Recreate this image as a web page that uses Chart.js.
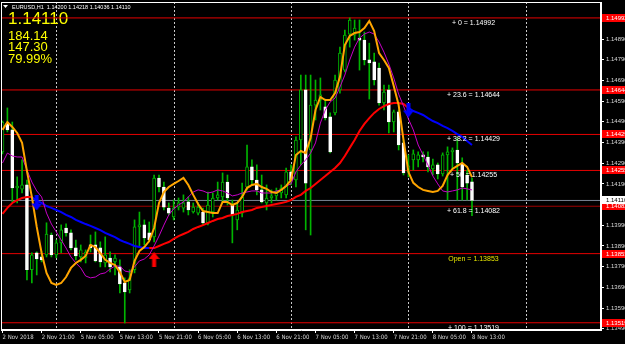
<!DOCTYPE html>
<html lang="en">
<head>
<meta charset="UTF-8">
<title>EURUSD,H1</title>
<style>
  html, body { margin: 0; padding: 0; background: #000; }
  canvas { display: block; }
</style>
</head>
<body>
<canvas id="chart" width="625" height="344"></canvas>
<script src="https://cdn.jsdelivr.net/npm/chart.js"></script>
<script>
// EURUSD H1, bars 2 Nov 13:00 .. 8 Nov 13:00 (index 0..96)
const symbol = 'EURUSD,H1';
const opens = [1.14345,1.14484,1.14451,1.14170,1.14165,1.14185,1.13775,1.13857,1.13837,1.13847,
  1.13943,1.13847,1.13905,1.13977,1.13953,1.13881,1.13837,1.13832,1.13895,1.13895,
  1.13881,1.13808,1.13832,1.13813,1.13789,1.13712,1.13678,1.13775,1.13982,1.13992,
  1.13953,1.13934,1.14218,1.14175,1.14073,1.14030,1.14078,1.14073,1.14103,1.14054,
  1.14049,1.14054,1.14001,1.14054,1.14122,1.14127,1.14199,1.14088,1.14016,1.14049,
  1.14175,1.14272,1.14209,1.14161,1.14098,1.14122,1.14132,1.14146,1.14137,1.14248,
  1.14209,1.14402,1.14644,1.14354,1.14571,1.14595,1.14562,1.14514,1.14533,1.14644,
  1.14740,1.14914,1.14909,1.14894,1.14885,1.14789,1.14780,1.14750,1.14581,1.14644,
  1.14489,1.14538,1.14388,1.14248,1.14306,1.14306,1.14330,1.14320,1.14262,1.14282,
  1.14238,1.14330,1.14345,1.14354,1.14291,1.14233,1.14200];
const highs = [1.14494,1.14557,1.14489,1.14224,1.14306,1.14209,1.13857,1.13862,1.13862,1.14002,
  1.13953,1.13919,1.13992,1.13997,1.13968,1.13919,1.13895,1.13871,1.13943,1.13958,
  1.13910,1.13934,1.13862,1.13847,1.13823,1.13736,1.13775,1.14016,1.14054,1.14016,
  1.14006,1.14233,1.14233,1.14199,1.14098,1.14112,1.14122,1.14137,1.14127,1.14098,
  1.14098,1.14073,1.14151,1.14146,1.14199,1.14243,1.14233,1.14112,1.14098,1.14194,
  1.14378,1.14306,1.14282,1.14233,1.14185,1.14161,1.14170,1.14185,1.14267,1.14282,
  1.14417,1.14716,1.14716,1.14716,1.14692,1.14702,1.14600,1.14533,1.14716,1.14851,
  1.14933,1.14992,1.14982,1.14982,1.14924,1.14870,1.14822,1.14774,1.14668,1.14668,
  1.14547,1.14547,1.14402,1.14330,1.14354,1.14345,1.14345,1.14345,1.14310,1.14291,
  1.14340,1.14369,1.14364,1.14412,1.14316,1.14257,1.14218];
const lows = [1.14335,1.14441,1.14103,1.14098,1.14146,1.13726,1.13711,1.13750,1.13813,1.13837,
  1.13837,1.13833,1.13857,1.13938,1.13871,1.13823,1.13813,1.13808,1.13861,1.13813,
  1.13789,1.13789,1.13765,1.13750,1.13663,1.13518,1.13663,1.13760,1.13885,1.13895,
  1.13910,1.13910,1.14151,1.14064,1.14040,1.14016,1.14064,1.14054,1.14040,1.14049,
  1.14040,1.13992,1.13992,1.14030,1.14112,1.14098,1.14088,1.13905,1.13968,1.14030,
  1.14161,1.14185,1.14137,1.14098,1.14064,1.14098,1.14112,1.14122,1.14122,1.14185,
  1.14175,1.14282,1.13968,1.13943,1.14499,1.14547,1.14499,1.14340,1.14523,1.14629,
  1.14731,1.14851,1.14885,1.14740,1.14765,1.14600,1.14668,1.14571,1.14547,1.14436,
  1.14441,1.14354,1.14233,1.14224,1.14257,1.14272,1.14296,1.14248,1.14233,1.14214,
  1.14228,1.14112,1.14262,1.14112,1.14112,1.14112,1.14036];
const closes = [1.14489,1.14451,1.14170,1.14180,1.14185,1.13775,1.13847,1.13828,1.13823,1.13948,
  1.13847,1.13905,1.13968,1.13953,1.13881,1.13842,1.13871,1.13861,1.13881,1.13818,
  1.13813,1.13847,1.13789,1.13832,1.13707,1.13668,1.13736,1.13982,1.13992,1.13929,
  1.13919,1.14218,1.14175,1.14078,1.14049,1.14073,1.14098,1.14098,1.14064,1.14078,
  1.14078,1.14001,1.14088,1.14122,1.14137,1.14199,1.14122,1.14040,1.14064,1.14127,
  1.14272,1.14209,1.14161,1.14103,1.14122,1.14132,1.14151,1.14170,1.14248,1.14209,
  1.14402,1.14644,1.14194,1.14571,1.14595,1.14620,1.14509,1.14345,1.14692,1.14822,
  1.14909,1.14982,1.14943,1.14885,1.14789,1.14775,1.14692,1.14581,1.14634,1.14489,
  1.14538,1.14378,1.14243,1.14277,1.14335,1.14330,1.14320,1.14272,1.14282,1.14238,
  1.14330,1.14345,1.14354,1.14291,1.14175,1.14194,1.14110];

// indicator lines
const fastMA = [1.14451,1.14489,1.14465,1.14436,1.14388,1.14252,1.14127,1.13982,1.13856,1.13760,
  1.13711,1.13702,1.13711,1.13740,1.13784,1.13808,1.13823,1.13842,1.13895,1.13885,
  1.13856,1.13823,1.13808,1.13798,1.13764,1.13716,1.13726,1.13818,1.13866,1.13885,
  1.13914,1.13977,1.14098,1.14151,1.14175,1.14190,1.14204,1.14219,1.14185,1.14137,
  1.14093,1.14059,1.14054,1.14049,1.14049,1.14103,1.14103,1.14088,1.14098,1.14127,
  1.14170,1.14185,1.14190,1.14175,1.14166,1.14151,1.14146,1.14161,1.14180,1.14209,
  1.14330,1.14349,1.14339,1.14412,1.14547,1.14610,1.14595,1.14595,1.14629,1.14707,
  1.14861,1.14905,1.14919,1.14924,1.14943,1.14977,1.14929,1.14822,1.14789,1.14750,
  1.14663,1.14571,1.14402,1.14248,1.14195,1.14175,1.14161,1.14156,1.14151,1.14156,
  1.14180,1.14233,1.14262,1.14277,1.14291,1.14272,1.14223];
const midMA = [1.14291,1.14339,1.14325,1.14320,1.14320,1.14257,1.14199,1.14156,1.14127,1.14049,
  1.13996,1.13958,1.13919,1.13880,1.13837,1.13808,1.13784,1.13745,1.13736,1.13740,
  1.13755,1.13760,1.13779,1.13793,1.13793,1.13769,1.13764,1.13789,1.13818,1.13827,
  1.13847,1.13890,1.13938,1.13991,1.14040,1.14069,1.14088,1.14103,1.14127,1.14151,
  1.14161,1.14156,1.14146,1.14151,1.14161,1.14156,1.14146,1.14132,1.14137,1.14146,
  1.14151,1.14156,1.14156,1.14146,1.14146,1.14146,1.14156,1.14161,1.14180,1.14190,
  1.14248,1.14281,1.14306,1.14339,1.14388,1.14484,1.14547,1.14586,1.14605,1.14658,
  1.14716,1.14789,1.14851,1.14895,1.14914,1.14924,1.14914,1.14876,1.14827,1.14769,
  1.14702,1.14624,1.14566,1.14504,1.14451,1.14378,1.14330,1.14281,1.14228,1.14190,
  1.14156,1.14151,1.14156,1.14161,1.14170,1.14166,1.14161];
const slowMA = [1.14045,1.14074,1.14098,1.14112,1.14122,1.14127,1.14127,1.14108,1.14098,1.14083,
  1.14074,1.14064,1.14054,1.14040,1.14030,1.14016,1.14006,1.13996,1.13987,1.13977,
  1.13967,1.13953,1.13943,1.13933,1.13919,1.13909,1.13900,1.13890,1.13885,1.13880,
  1.13880,1.13880,1.13890,1.13900,1.13909,1.13924,1.13938,1.13948,1.13958,1.13972,
  1.13982,1.13991,1.14001,1.14011,1.14020,1.14025,1.14035,1.14040,1.14045,1.14054,
  1.14059,1.14064,1.14074,1.14078,1.14083,1.14088,1.14093,1.14098,1.14103,1.14112,
  1.14127,1.14137,1.14156,1.14170,1.14190,1.14209,1.14228,1.14248,1.14267,1.14291,
  1.14325,1.14364,1.14402,1.14446,1.14480,1.14508,1.14533,1.14552,1.14566,1.14576,
  1.14581,1.14581,1.14576,1.14557,1.14542,1.14533,1.14523,1.14508,1.14494,1.14484,
  1.14470,1.14460,1.14446,1.14431,1.14417,1.14397,1.14378];
const slowDown = [[6, 30], [83, 96]];   // bar stretches where the slow line turns blue

// signal arrows
const downSignalIdx = [7, 83];
const downSignalPrice = [1.14098, 1.14547];
const upSignalIdx = [31];
const upSignalPrice = [1.13825];

// fibo levels
const fibNames = ['0', '23.6', '38.2', '50', '61.8', 'Open', '100'];
const fibPrices = [1.14992, 1.14644, 1.14429, 1.14255, 1.14082, 1.13853, 1.13519];
const bidPrice = 1.14110;
const infoValues = ['184.14', '147.30', '79.99%'];

// axes
const timeTicks = [0, 8, 16, 24, 32, 40, 48, 56, 64, 72, 80, 88, 96];
const timeLabels = ['2 Nov 2018', '2 Nov 21:00', '5 Nov 05:00', '5 Nov 13:00', '5 Nov 21:00',
  '6 Nov 05:00', '6 Nov 13:00', '6 Nov 21:00', '7 Nov 05:00', '7 Nov 13:00', '7 Nov 21:00',
  '8 Nov 05:00', '8 Nov 13:00'];
const daySeparators = [11, 35, 59, 83, 107];
const priceTicks = [1.14890, 1.14790, 1.14690, 1.14590, 1.14490, 1.14390, 1.14290, 1.14190,
  1.13990, 1.13890, 1.13790, 1.13690, 1.13590, 1.13490];

const X_MIN = -0.307, X_MAX = 122.38;
const Y_MIN = 1.13484, Y_MAX = 1.15069;
const GREEN = '#00b400';
const FONT = '"Liberation Sans", Arial, sans-serif';
const NARROW = '"Liberation Sans Narrow", "DejaVu Sans Condensed", "Liberation Sans", sans-serif';

const idx = opens.map((_, i) => i);
const bull = idx.map(i => closes[i] >= opens[i]);
const last = opens.length - 1;

function levelLine(p) {
  return [{ x: X_MIN, y: p }, { x: X_MAX, y: p }];
}
function inDown(i) {
  return slowDown.some(s => i >= s[0] && i < s[1]);
}
function makeArrow(color, up) {
  const c = document.createElement('canvas');
  c.width = 11; c.height = 15;
  const g = c.getContext('2d');
  if (!up) { g.translate(0, 15); g.scale(1, -1); }
  g.fillStyle = color;
  g.beginPath();
  g.moveTo(5.5, 0); g.lineTo(11, 7); g.lineTo(7.5, 7); g.lineTo(7.5, 15);
  g.lineTo(3.5, 15); g.lineTo(3.5, 7); g.lineTo(0, 7);
  g.closePath();
  g.fill();
  return c;
}

const datasets = [];
fibPrices.forEach((p, k) => {
  datasets.push({ type: 'line', data: levelLine(p), borderColor: k === 4 ? '#a00000' : '#e60000',
    borderWidth: 1, pointRadius: 0, order: 20 });
});
datasets.push({ type: 'line', data: levelLine(bidPrice), borderColor: '#7a8594', borderWidth: 1, pointRadius: 0, order: 19 });
datasets.push({ type: 'bar', data: idx.map(i => ({ x: i, y: [lows[i], highs[i]] })),
  backgroundColor: GREEN, barThickness: 1, grouped: false, order: 12 });
datasets.push({ type: 'bar', data: idx.map(i => ({ x: i, y: [opens[i], closes[i]] })),
  backgroundColor: idx.map(i => bull[i] ? '#000' : '#fff'),
  borderColor: idx.map(i => bull[i] ? GREEN : '#fff'),
  borderWidth: 1, borderSkipped: false, barThickness: 3, grouped: false, order: 11 });
datasets.push({ type: 'line', data: slowMA.map((v, i) => ({ x: i, y: v })), borderColor: '#ff0000', borderWidth: 2,
  segment: { borderColor: c => inDown(c.p0DataIndex) ? '#0000ff' : '#ff0000' }, pointRadius: 0, order: 6 });
datasets.push({ type: 'line', data: midMA.map((v, i) => ({ x: i, y: v })), borderColor: '#c800c8', borderWidth: 1, pointRadius: 0, order: 5 });
datasets.push({ type: 'line', data: fastMA.map((v, i) => ({ x: i, y: v })), borderColor: '#ffa500', borderWidth: 2, pointRadius: 0, order: 4 });
datasets.push({ type: 'line', data: downSignalIdx.map((v, k) => ({ x: v, y: downSignalPrice[k] })), showLine: false,
  pointStyle: makeArrow('#0000ff', false), pointRadius: 6, order: 1 });
datasets.push({ type: 'line', data: upSignalIdx.map((v, k) => ({ x: v, y: upSignalPrice[k] })), showLine: false,
  pointStyle: makeArrow('#ff0000', true), pointRadius: 6, order: 1 });

const overlay = {
  id: 'overlay',
  beforeDraw(chart) {
    const ctx = chart.ctx;
    ctx.save();
    ctx.fillStyle = '#000';
    ctx.fillRect(0, 0, chart.width, chart.height);
    ctx.restore();
  },
  beforeDatasetsDraw(chart) {
    const { ctx, chartArea: a, scales: { x } } = chart;
    ctx.save();
    // day separators
    ctx.strokeStyle = '#c8c8c8';
    ctx.lineWidth = 1;
    ctx.setLineDash([2, 2]);
    daySeparators.forEach(d => {
      const px = Math.round(x.getPixelForValue(d)) + 0.5;
      if (px > a.left && px < a.right) {
        ctx.beginPath(); ctx.moveTo(px, a.top); ctx.lineTo(px, a.bottom); ctx.stroke();
      }
    });
    ctx.setLineDash([]);
    // header
    ctx.fillStyle = '#fff';
    ctx.beginPath(); ctx.moveTo(3, 5); ctx.lineTo(8, 5); ctx.lineTo(5.5, 8); ctx.closePath(); ctx.fill();
    ctx.font = '5.5px ' + FONT;
    ctx.textBaseline = 'alphabetic';
    ctx.fillText(symbol + '  ' + [opens[last], highs[last], lows[last], closes[last]].map(v => v.toFixed(5)).join(' '), 12, 8.5);
    // info panel
    ctx.fillStyle = '#ffff00';
    ctx.font = '17px ' + FONT;
    ctx.fillText(closes[last].toFixed(5), 8, 24);
    ctx.font = '13px ' + FONT;
    infoValues.forEach((t, k) => ctx.fillText(t, 8, 39.5 + k * 11.8));
    ctx.restore();
  },
  afterDatasetsDraw(chart) {
    const { ctx, scales: { x, y } } = chart;
    ctx.save();
    ctx.font = '7px ' + FONT;
    ctx.textAlign = 'center';
    ctx.textBaseline = 'alphabetic';
    const tx = x.getPixelForValue(last) + 1.5;
    fibPrices.forEach((p, k) => {
      const open = fibNames[k] === 'Open';
      ctx.fillStyle = open ? '#e6e600' : '#ffffff';
      const label = open ? 'Open = ' + p.toFixed(5) : '+ ' + fibNames[k] + ' = ' + p.toFixed(5);
      ctx.fillText(label, tx, y.getPixelForValue(p) + 7);
    });
    ctx.restore();
  },
  afterDraw(chart) {
    const { ctx, chartArea: a, scales: { y } } = chart;
    ctx.save();
    ctx.strokeStyle = '#fff';
    ctx.lineWidth = 1;
    ctx.strokeRect(a.left + 0.5, a.top + 0.5, a.right - a.left - 1, a.bottom - a.top - 1);
    ctx.font = '6px ' + FONT;
    ctx.textBaseline = 'middle';
    ctx.textAlign = 'left';
    fibPrices.forEach(p => {
      const py = Math.round(y.getPixelForValue(p));
      ctx.fillStyle = '#ff0000';
      ctx.fillRect(a.right + 1, py - 4, 30, 8);
      ctx.fillStyle = '#fff';
      ctx.fillText(p.toFixed(5), a.right + 5, py + 0.5);
    });
    const by = Math.round(y.getPixelForValue(bidPrice));
    ctx.fillStyle = '#fff';
    ctx.fillRect(a.right + 1, by - 4, 30, 8);
    ctx.fillStyle = '#000';
    ctx.fillText(bidPrice.toFixed(5), a.right + 5, by + 0.5);
    ctx.restore();
  }
};

new Chart(document.getElementById('chart'), {
  type: 'bar',
  data: { datasets: datasets },
  options: {
    responsive: false,
    animation: false,
    devicePixelRatio: 1,
    layout: { autoPadding: false, padding: { left: 1, top: 2, right: 0, bottom: 0 } },
    plugins: { legend: { display: false }, tooltip: { enabled: false } },
    scales: {
      x: {
        type: 'linear', min: X_MIN, max: X_MAX, offset: false,
        afterBuildTicks: s => { s.ticks = timeTicks.map(v => ({ value: v })); },
        afterFit: s => { s.height = 14; s.paddingLeft = 0; s.paddingRight = 0; },
        ticks: { color: '#d8d8d8', font: { family: NARROW, size: 6 }, align: 'start', maxRotation: 0,
          autoSkip: false, padding: 1, callback: (v, k) => timeLabels[k] },
        grid: { offset: false, drawOnChartArea: false, color: '#fff', tickLength: 3 },
        border: { color: '#fff' }
      },
      y: {
        type: 'linear', position: 'right', min: Y_MIN, max: Y_MAX,
        afterBuildTicks: s => { s.ticks = priceTicks.map(v => ({ value: v })); },
        afterFit: s => { s.width = 24; s.paddingTop = 0; s.paddingBottom = 0; },
        ticks: { color: '#d8d8d8', font: { family: FONT, size: 6 }, padding: 2, autoSkip: false,
          callback: v => v.toFixed(5) },
        grid: { drawOnChartArea: false, color: '#fff', tickLength: 3 },
        border: { color: '#fff' }
      }
    }
  },
  plugins: [overlay]
});
</script>
</body>
</html>
